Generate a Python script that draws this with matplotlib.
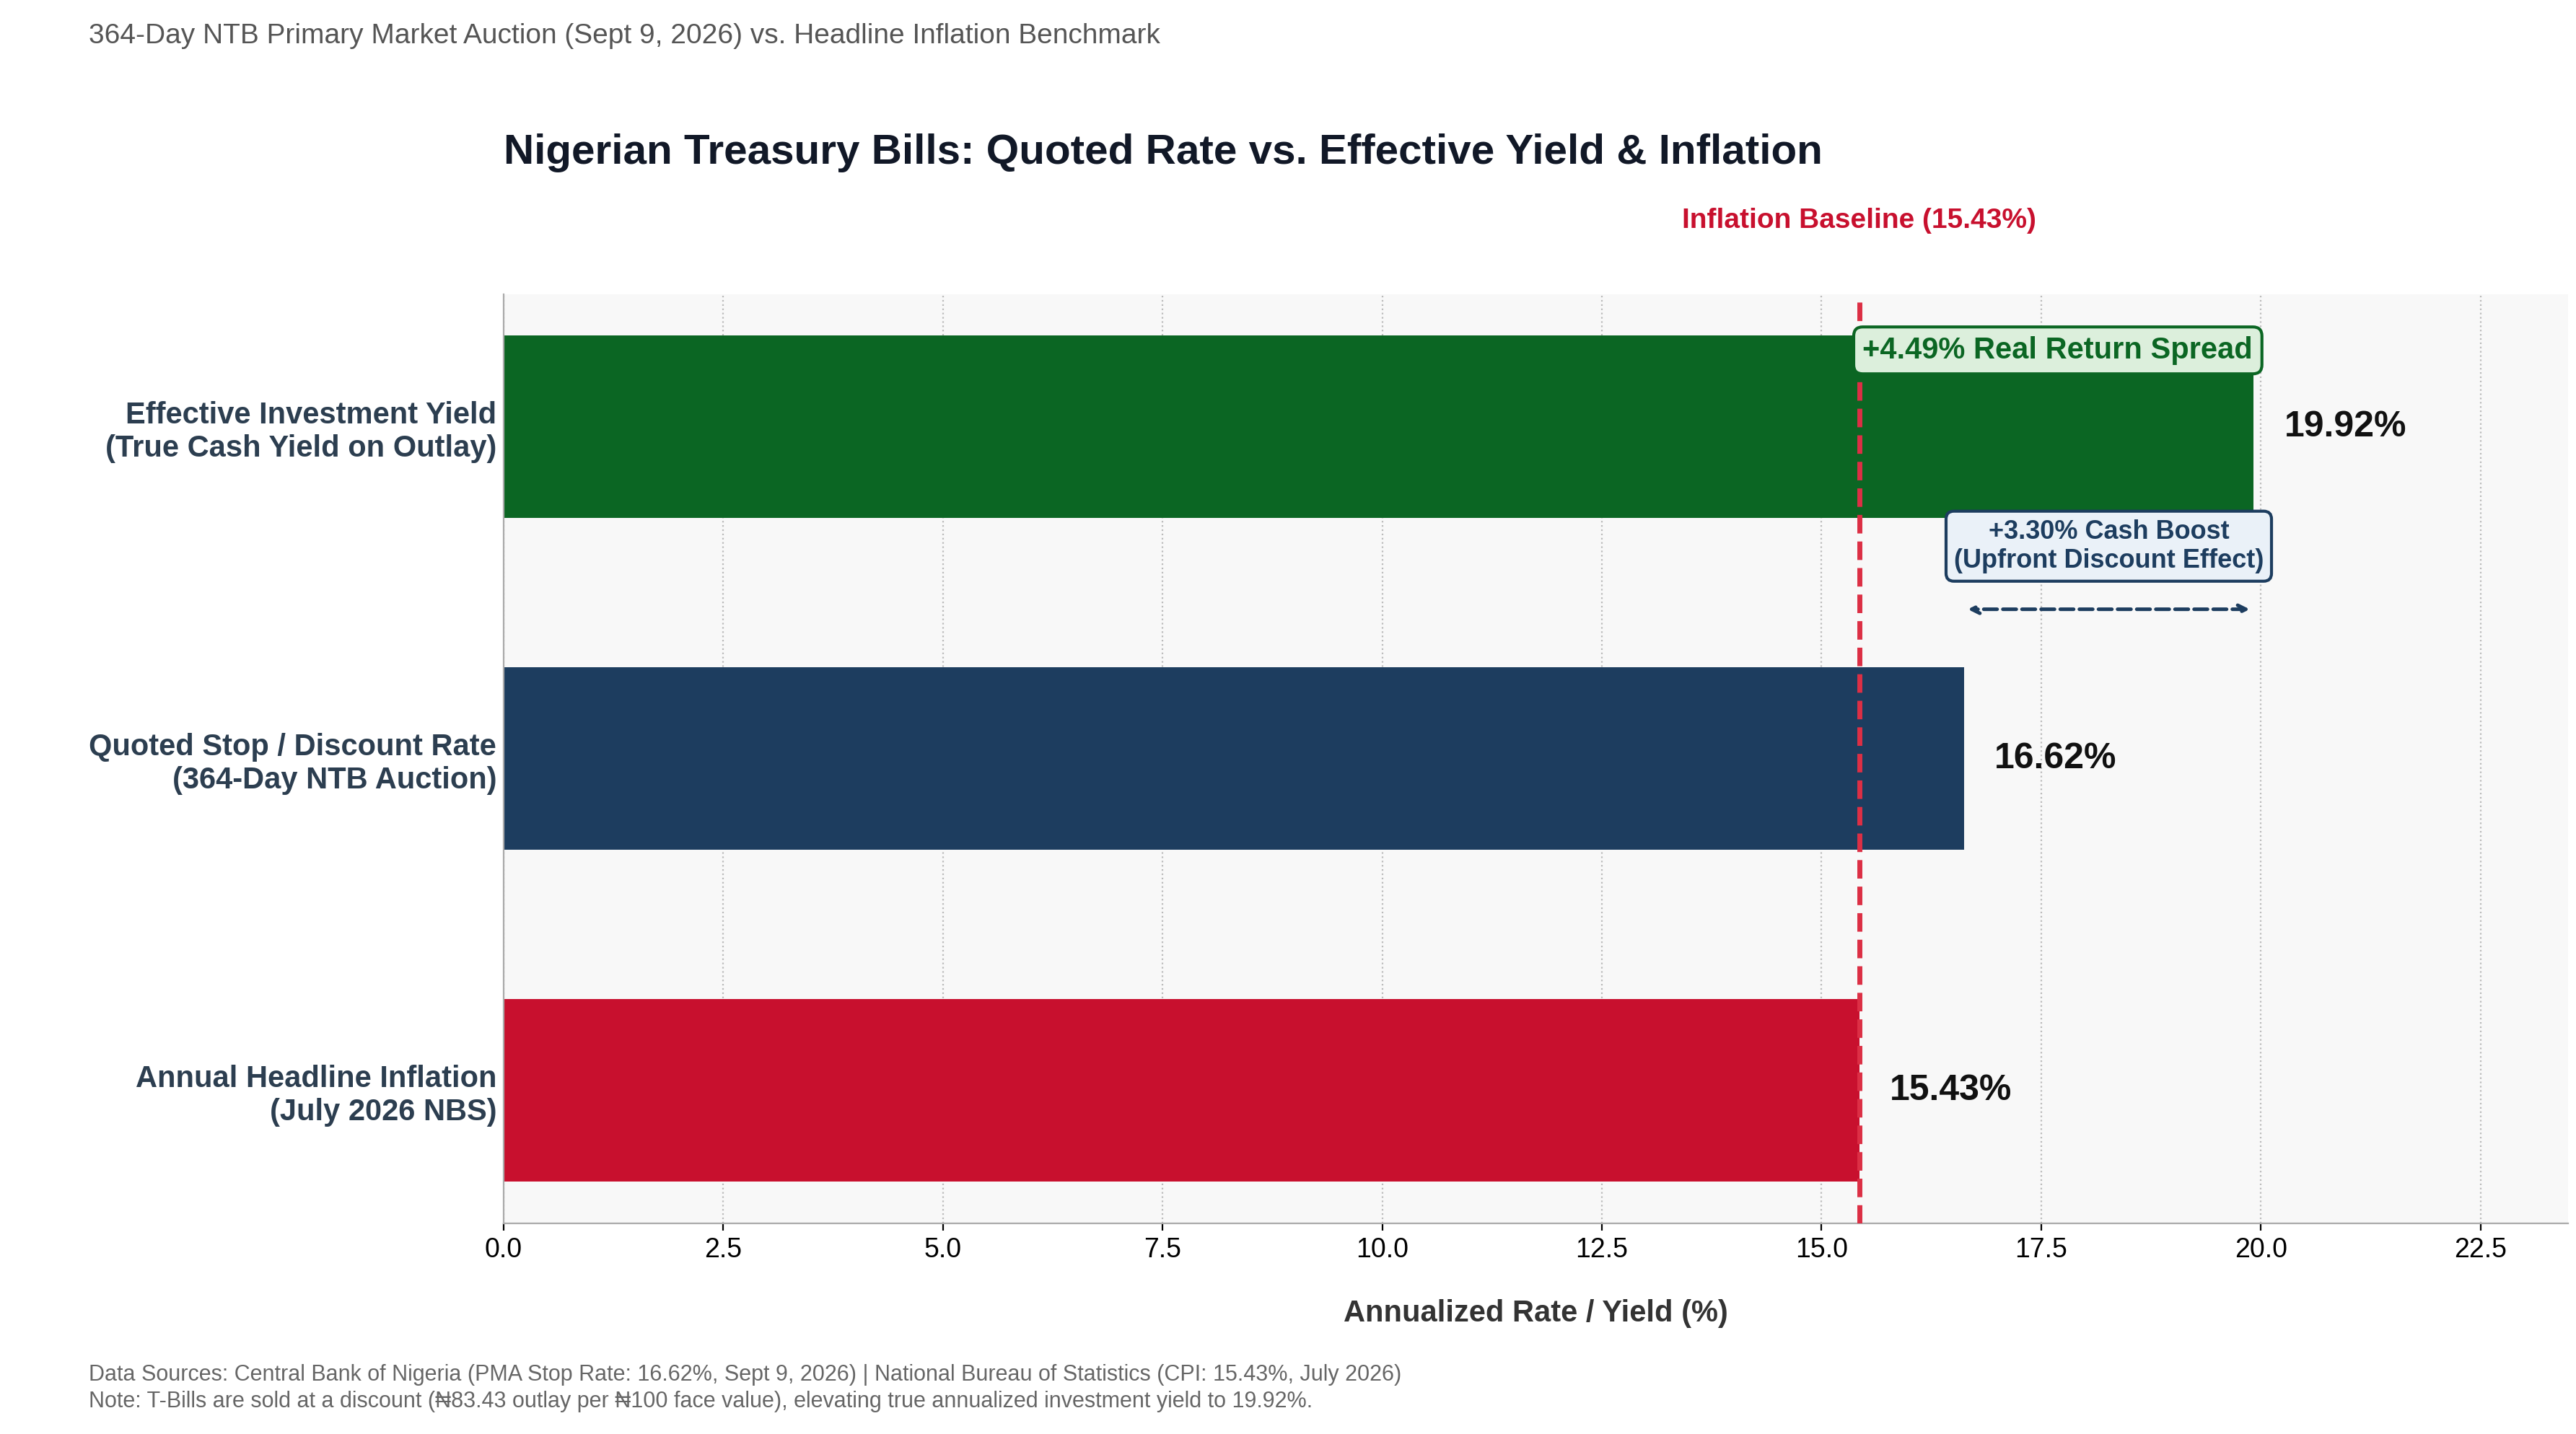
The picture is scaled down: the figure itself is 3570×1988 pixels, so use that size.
import matplotlib
matplotlib.use("Agg")
import matplotlib.pyplot as plt

plt.rcParams['font.family'] = ['Liberation Sans', 'DejaVu Sans']

categories = ["Annual Headline Inflation\n(July 2026 NBS)",
              "Quoted Stop / Discount Rate\n(364-Day NTB Auction)",
              "Effective Investment Yield\n(True Cash Yield on Outlay)"]
values = [15.43, 16.62, 19.92]
colors = ["#c8102e", "#1d3d5f", "#0b6623"]
inflation = 15.43
xticks = [0, 2.5, 5, 7.5, 10, 12.5, 15, 17.5, 20, 22.5]

fig = plt.figure(figsize=(17.85, 9.94), dpi=200)
ax = fig.add_axes([0.1955, 0.147, 0.8015, 0.648])
ax.set_facecolor("#f8f8f8")
y = list(range(len(categories)))
ax.barh(y, values, height=0.55, color=colors, zorder=2)
ax.set_xlim(0, 23.5)
ax.set_ylim(-0.4, 2.4)
ax.set_yticks(y)
ax.set_yticklabels(categories, fontsize=15, fontweight='bold', color="#2c3e50")
ax.set_xticks(xticks)
ax.set_xticklabels([f"{t:.1f}" for t in xticks], fontsize=13.5)
ax.tick_params(axis='y', length=0)
ax.xaxis.grid(True, linestyle=':', color="#bbbbbb", zorder=0)
for s in ['top', 'right']:
    ax.spines[s].set_visible(False)
for s in ['left', 'bottom']:
    ax.spines[s].set_color("#aaaaaa")
ax.set_xlabel("Annualized Rate / Yield (%)", fontsize=15, fontweight='bold', color="#333333", labelpad=18)

for yi, v in zip(y, values):
    ax.text(v + 0.35, yi, f"{v:.2f}%", va='center', ha='left', fontsize=18, fontweight='bold', color="#111111")

ax.axvline(inflation, color="#dc2f45", linestyle='--', linewidth=2.5, zorder=3)
ax.text(inflation, 2.62, f"Inflation Baseline ({inflation:.2f}%)", ha='center', va='center',
        color="#c8102e", fontsize=14, fontweight='bold', clip_on=False)

ax.text(17.69, 2.23, f"+{values[2]-inflation:.2f}% Real Return Spread", ha='center', va='center',
        fontsize=15, fontweight='bold', color="#0b6623", zorder=5,
        bbox=dict(boxstyle='round,pad=0.3', fc="#dcefdc", ec="#0b6623", lw=1.5))
ax.text(18.27, 1.64, f"+{values[2]-values[1]:.2f}% Cash Boost\n(Upfront Discount Effect)", ha='center', va='center',
        fontsize=13, fontweight='bold', color="#1d3d5f", zorder=5,
        bbox=dict(boxstyle='round,pad=0.3', fc="#eaf1f8", ec="#1d3d5f", lw=1.5))
ax.annotate("", xy=(values[1], 1.45), xytext=(values[2], 1.45),
            arrowprops=dict(arrowstyle='<->', linestyle='--', color="#1d3d5f", lw=1.8))

ax.set_title("Nigerian Treasury Bills: Quoted Rate vs. Effective Yield & Inflation", loc='left',
             fontsize=21, fontweight='bold', color="#111827", pad=65)
fig.text(0.0345, 0.975, "364-Day NTB Primary Market Auction (Sept 9, 2026) vs. Headline Inflation Benchmark",
         fontsize=14, color="#555555", ha='left', va='center')
fig.text(0.0345, 0.032, "Data Sources: Central Bank of Nigeria (PMA Stop Rate: 16.62%, Sept 9, 2026) | National Bureau of Statistics (CPI: 15.43%, July 2026)\n"
         "Note: T-Bills are sold at a discount (₦83.43 outlay per ₦100 face value), elevating true annualized investment yield to 19.92%.",
         fontsize=11, color="#666666", ha='left', va='center', linespacing=1.3)
fig.savefig("out.png", dpi=200)
